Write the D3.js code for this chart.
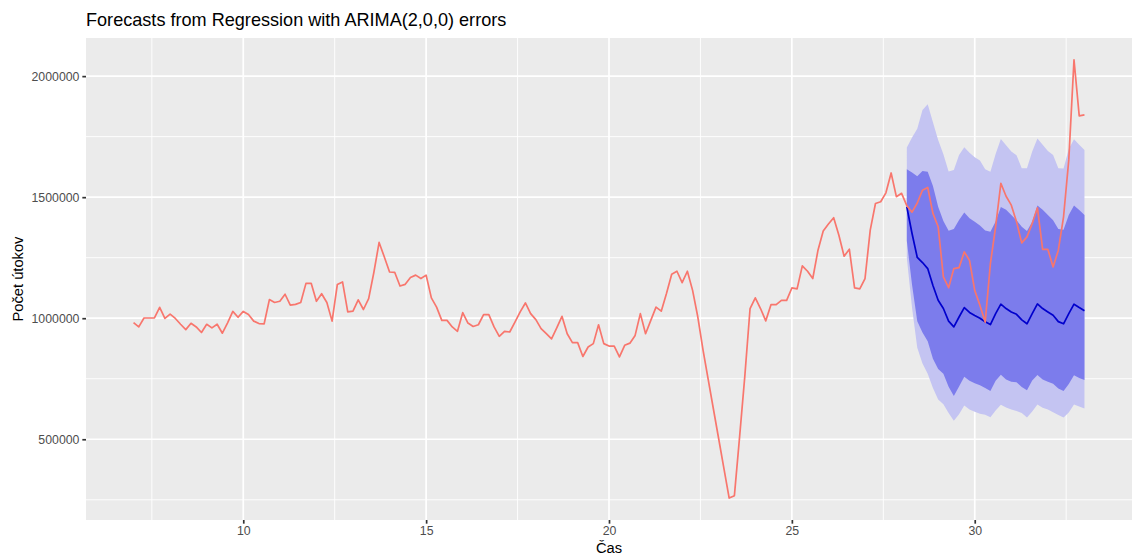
<!DOCTYPE html>
<html>
<head>
<meta charset="utf-8">
<script src="https://cdn.jsdelivr.net/npm/d3@7"></script>
<style>
  body { margin: 0; background: #fff; }
  svg { display: block; font-family: "Liberation Sans", Arial, sans-serif; }
</style>
</head>
<body>
<svg id="chart" width="1132" height="557"></svg>
<script>
// time series settings (like ts(start = 7, frequency = 7))
const seriesStart = 7;
const seriesFrequency = 7;

// observed number of attacks, one value per period
const attacks = [
  982000, 964000, 1001000, 1001000, 1001000, 1045000, 999000, 1017000, 999000, 975000,
  953000, 979000, 964000, 941000, 975000, 960000, 975000, 938000, 981000, 1028000,
  1004000, 1028000, 1015000, 988000, 978000, 977000, 1077000, 1065000, 1070000, 1099000,
  1054000, 1057000, 1065000, 1144000, 1144000, 1070000, 1101000, 1065000, 988000, 1139000,
  1150000, 1026000, 1029000, 1076000, 1036000, 1081000, 1190000, 1313000, 1253000, 1191000,
  1189000, 1133000, 1140000, 1168000, 1178000, 1164000, 1178000, 1084000, 1046000, 991000,
  991000, 964000, 946000, 1023000, 980000, 966000, 973000, 1015000, 1015000, 964000,
  925000, 946000, 943000, 984000, 1026000, 1063000, 1019000, 994000, 957000, 936000,
  915000, 960000, 1008000, 936000, 899000, 899000, 842000, 881000, 895000, 973000,
  895000, 885000, 885000, 840000, 888000, 897000, 929000, 1019000, 936000, 991000,
  1046000, 1029000, 1102000, 1182000, 1194000, 1147000, 1194000, 1115000, 1005000, 868000,
  745000, 623000, 501000, 379000, 257000, 267000, 511000, 762000, 1040000, 1084000,
  1040000, 989000, 1056000, 1056000, 1074000, 1074000, 1125000, 1121000, 1216000, 1194000,
  1164000, 1281000, 1360000, 1389000, 1415000, 1343000, 1256000, 1285000, 1125000, 1121000,
  1164000, 1364000, 1474000, 1481000, 1518000, 1600000, 1502000, 1516000, 1465000, 1438000,
  1476000, 1529000, 1540000, 1433000, 1378000, 1171000, 1126000, 1205000, 1209000, 1274000,
  1239000, 1115000, 1053000, 984000, 1226000, 1378000, 1557000, 1504000, 1467000, 1398000,
  1311000, 1336000, 1391000, 1456000, 1284000, 1284000, 1212000, 1281000, 1419000, 1654000,
  2067000, 1836000, 1840000
];

// forecast starts at this position of the series
const forecastStartIndex = 148;

const forecastMean = [
  1460000, 1350000, 1251000, 1230000, 1205000, 1135000, 1074000, 1040000, 988000, 964000,
  1005000, 1044000, 1024000, 1011000, 1000000, 985000, 974000, 1019000, 1058000, 1040000,
  1026000, 1016000, 993000, 977000, 1019000, 1059000, 1040000, 1026000, 1012000, 986000,
  977000, 1019000, 1058000, 1044000, 1031000
];
const forecastHi80 = [
  1615000, 1602000, 1586000, 1608000, 1605000, 1546000, 1460000, 1402000, 1361000, 1369000,
  1406000, 1437000, 1413000, 1398000, 1383000, 1362000, 1357000, 1400000, 1459000, 1448000,
  1426000, 1405000, 1378000, 1360000, 1398000, 1466000, 1448000, 1426000, 1405000, 1369000,
  1365000, 1426000, 1466000, 1447000, 1426000
];
const forecastLo80 = [
  1320000, 1138000, 987000, 941000, 905000, 833000, 790000, 771000, 717000, 679000,
  718000, 758000, 742000, 731000, 723000, 712000, 699000, 742000, 767000, 747000,
  738000, 735000, 716000, 702000, 743000, 765000, 747000, 738000, 729000, 710000,
  699000, 728000, 764000, 753000, 745000
];
const forecastHi95 = [
  1705000, 1747000, 1783000, 1860000, 1884000, 1809000, 1736000, 1677000, 1606000, 1612000,
  1674000, 1706000, 1683000, 1665000, 1652000, 1615000, 1605000, 1678000, 1740000, 1714000,
  1689000, 1673000, 1619000, 1619000, 1689000, 1742000, 1717000, 1691000, 1674000, 1619000,
  1618000, 1699000, 1739000, 1717000, 1695000
];
const forecastLo95 = [
  1250000, 1043000, 878000, 813000, 771000, 712000, 664000, 645000, 608000, 576000,
  603000, 639000, 623000, 614000, 605000, 601000, 591000, 619000, 643000, 631000,
  623000, 617000, 609000, 590000, 615000, 644000, 630000, 623000, 612000, 600000,
  590000, 611000, 644000, 635000, 627000
];

const xTicks = [10, 15, 20, 25, 30];
const xMinorTicks = [7.5, 12.5, 17.5, 22.5, 27.5, 32.5];
const yTicks = [500000, 1000000, 1500000, 2000000];
const yMinorTicks = [250000, 750000, 1250000, 1750000];

const titleText = 'Forecasts from Regression with ARIMA(2,0,0) errors';
const xTitle = 'Čas';
const yTitle = 'Počet útokov';

// ---- build ----
const timeAt = i => seriesStart + i / seriesFrequency;

const observed = attacks.map((v, i) => ({ t: timeAt(i), v }));
const forecast = forecastMean.map((m, k) => ({
  t: timeAt(forecastStartIndex + k),
  mean: m,
  lo80: forecastLo80[k], hi80: forecastHi80[k],
  lo95: forecastLo95[k], hi95: forecastHi95[k]
}));

const svg = d3.select('#chart');
const W = 1132, H = 557;
const margin = { top: 38, right: 0, bottom: 37, left: 86 };
const width = W - margin.left - margin.right;
const height = H - margin.top - margin.bottom;

// ggplot-like 5% expansion
const tExtent = d3.extent(observed, d => d.t);
const tPad = (tExtent[1] - tExtent[0]) * 0.05;
const allValues = attacks.concat(forecastLo95, forecastHi95);
const vExtent = d3.extent(allValues);
const vPad = (vExtent[1] - vExtent[0]) * 0.05;

const x = d3.scaleLinear()
  .domain([tExtent[0] - tPad, tExtent[1] + tPad])
  .range([0, width]);
const y = d3.scaleLinear()
  .domain([vExtent[0] - vPad, vExtent[1] + vPad])
  .range([height, 0]);

const g = svg.append('g')
  .attr('transform', `translate(${margin.left},${margin.top})`);

// panel background
g.append('rect')
  .attr('width', width)
  .attr('height', height)
  .attr('fill', '#EBEBEB');

// grid
const grid = g.append('g').attr('class', 'grid');
grid.selectAll('.ymin').data(yMinorTicks).enter().append('line')
  .attr('x1', 0).attr('x2', width)
  .attr('y1', d => y(d)).attr('y2', d => y(d))
  .attr('stroke', '#fff').attr('stroke-width', 0.9);
grid.selectAll('.xmin').data(xMinorTicks).enter().append('line')
  .attr('y1', 0).attr('y2', height)
  .attr('x1', d => x(d)).attr('x2', d => x(d))
  .attr('stroke', '#fff').attr('stroke-width', 0.9);
grid.selectAll('.ymaj').data(yTicks).enter().append('line')
  .attr('x1', 0).attr('x2', width)
  .attr('y1', d => y(d)).attr('y2', d => y(d))
  .attr('stroke', '#fff').attr('stroke-width', 1.7);
grid.selectAll('.xmaj').data(xTicks).enter().append('line')
  .attr('y1', 0).attr('y2', height)
  .attr('x1', d => x(d)).attr('x2', d => x(d))
  .attr('stroke', '#fff').attr('stroke-width', 1.7);

// prediction intervals
const area95 = d3.area()
  .x(d => x(d.t))
  .y0(d => y(d.lo95))
  .y1(d => y(d.hi95));
const area80 = d3.area()
  .x(d => x(d.t))
  .y0(d => y(d.lo80))
  .y1(d => y(d.hi80));

g.append('path')
  .datum(forecast)
  .attr('fill', '#C4C4F2')
  .attr('d', area95);
g.append('path')
  .datum(forecast)
  .attr('fill', '#7C7CEC')
  .attr('d', area80);

// forecast mean
g.append('path')
  .datum(forecast)
  .attr('fill', 'none')
  .attr('stroke', '#0000CC')
  .attr('stroke-width', 1.7)
  .attr('stroke-linejoin', 'round')
  .attr('d', d3.line().x(d => x(d.t)).y(d => y(d.mean)));

// observed series
g.append('path')
  .datum(observed)
  .attr('fill', 'none')
  .attr('stroke', '#F8766D')
  .attr('stroke-width', 1.7)
  .attr('stroke-linejoin', 'round')
  .attr('d', d3.line().x(d => x(d.t)).y(d => y(d.v)));

// axes
const tickLen = 3.67, tickPad = 2.93;

const xAxis = g.append('g')
  .attr('transform', `translate(0,${height})`)
  .call(d3.axisBottom(x).tickValues(xTicks).tickSize(tickLen).tickPadding(tickPad)
    .tickFormat(d3.format('d')));
const yAxis = g.append('g')
  .call(d3.axisLeft(y).tickValues(yTicks).tickSize(tickLen).tickPadding(tickPad)
    .tickFormat(d3.format('d')));

[xAxis, yAxis].forEach(ax => {
  ax.select('.domain').remove();
  ax.selectAll('.tick line').attr('stroke', '#333333').attr('stroke-width', 1.7);
  ax.selectAll('.tick text')
    .attr('fill', '#4D4D4D')
    .style('font-size', '12.3px')
    .style('font-family', '"Liberation Sans", Arial, sans-serif');
});

// titles
svg.append('text')
  .attr('x', margin.left)
  .attr('y', 26)
  .attr('fill', '#000')
  .style('font-size', '18.1px')
  .text(titleText);

svg.append('text')
  .attr('x', margin.left + width / 2)
  .attr('y', 553)
  .attr('text-anchor', 'middle')
  .attr('fill', '#000')
  .style('font-size', '14.7px')
  .text(xTitle);

svg.append('text')
  .attr('transform', `translate(23,${margin.top + height / 2}) rotate(-90)`)
  .attr('text-anchor', 'middle')
  .attr('fill', '#000')
  .style('font-size', '14.7px')
  .text(yTitle);
</script>
</body>
</html>
